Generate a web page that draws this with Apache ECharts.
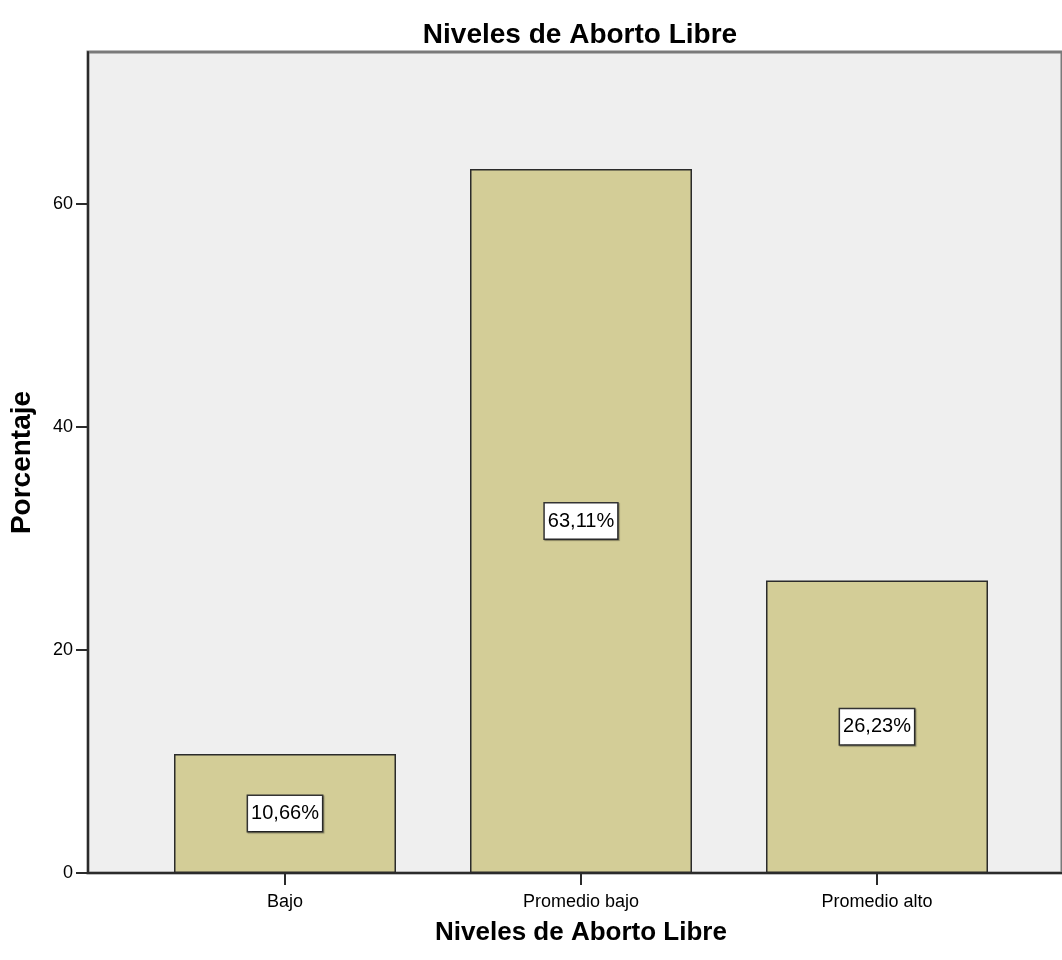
<!DOCTYPE html>
<html lang="es">
  <head>
    <meta charset="utf-8">
    <title>Niveles de Aborto Libre</title>
    <script src="https://cdn.jsdelivr.net/npm/echarts@6/dist/echarts.min.js"></script>
    <style>
      html, body { margin: 0; padding: 0; background: #fff; }
      #chart { width: 1062px; height: 960px; }
    </style>
  </head>
  <body>
    <div id="chart"></div>
    <script type="text/javascript">
    // datos
    var categorias = ['Bajo', 'Promedio bajo', 'Promedio alto'];
    var porcentajes = [10.66, 63.11, 26.23];
    var yTicks = [0, 20, 40, 60];

    var fuente = '"Liberation Sans", Arial, sans-serif';
    var yMax = 73.6;

    var chart = echarts.init(document.getElementById('chart'));

    var option = {
        animation: false,
        title: {
            text: 'Niveles de Aborto Libre',
            left: 575,
            textAlign: 'center',
            top: 16,
            textStyle: { fontFamily: fuente, fontSize: 28, fontWeight: 'bold', color: '#000' }
        },
        grid: [
            // fondo gris del area de trazado
            { left: 88, right: -4, top: 52, bottom: 87, show: true,
              backgroundColor: '#efefef', borderColor: '#7a7a7a', borderWidth: 3 },
            // barras
            { left: 137, right: 37, top: 52, bottom: 87 }
        ],
        xAxis: [
            {
                gridIndex: 0, type: 'value', min: 0, max: 1,
                axisLine: { show: true, lineStyle: { color: '#2b2b2b', width: 2 } },
                axisTick: { show: false }, axisLabel: { show: false }, splitLine: { show: false }
            },
            {
                gridIndex: 1, type: 'category', data: categorias,
                axisLine: { show: false },
                axisTick: { show: true, alignWithLabel: true, length: 12, lineStyle: { color: '#2b2b2b', width: 2 } },
                axisLabel: { fontFamily: fuente, fontSize: 18, color: '#000', margin: 20 },
                name: 'Niveles de Aborto Libre',
                nameLocation: 'middle',
                nameGap: 47,
                nameTextStyle: { fontFamily: fuente, fontSize: 26, fontWeight: 'bold', color: '#000' }
            }
        ],
        yAxis: [
            {
                gridIndex: 0, type: 'value', min: 0, max: yMax, interval: 20,
                axisLine: { show: true, lineStyle: { color: '#2b2b2b', width: 2 } },
                axisTick: { show: true, length: 12, lineStyle: { color: '#2b2b2b', width: 2 } },
                axisLabel: {
                    fontFamily: fuente, fontSize: 18, color: '#000', margin: 15,
                    showMaxLabel: false,
                    formatter: function (v) { return yTicks.indexOf(v) >= 0 ? String(v) : ''; }
                },
                splitLine: { show: false },
                name: 'Porcentaje',
                nameLocation: 'middle',
                nameGap: 52,
                nameTextStyle: { fontFamily: fuente, fontSize: 28, fontWeight: 'bold', color: '#000' }
            },
            {
                gridIndex: 1, type: 'value', min: 0, max: yMax, show: false
            }
        ],
        series: [
            {
                name: 'Porcentaje',
                type: 'bar',
                xAxisIndex: 1,
                yAxisIndex: 1,
                barWidth: '75%',
                data: porcentajes,
                itemStyle: { color: '#d3cd97', borderColor: '#2b2b2b', borderWidth: 1.5 },
                label: {
                    show: true,
                    position: 'inside',
                    fontFamily: fuente,
                    fontSize: 20,
                    color: '#000',
                    backgroundColor: '#fff',
                    borderColor: '#333',
                    borderWidth: 1.5,
                    padding: [8, 3, 7, 3],
                    shadowColor: 'rgba(0,0,0,0.35)',
                    shadowOffsetX: 1,
                    shadowOffsetY: 1,
                    shadowBlur: 1,
                    formatter: function (p) { return p.value.toFixed(2).replace('.', ',') + '%'; }
                }
            }
        ]
    };

    chart.setOption(option);
    </script>
  </body>
</html>
